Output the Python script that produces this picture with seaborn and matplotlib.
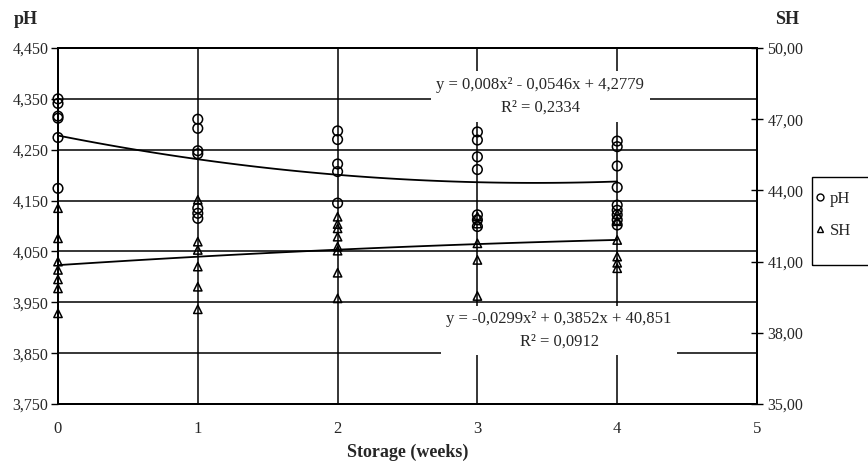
import numpy as np
import pandas as pd
import seaborn as sns
import matplotlib.pyplot as plt
from matplotlib.lines import Line2D
from matplotlib.patches import Rectangle

# pH readings (left axis) per storage week
ph_week = [0] * 6 + [1] * 7 + [2] * 5 + [3] * 7 + [4] * 9
ph_value = [4.350, 4.341, 4.316, 4.312, 4.274, 4.174,
            4.310, 4.292, 4.248, 4.242, 4.135, 4.125, 4.115,
            4.287, 4.270, 4.222, 4.207, 4.145,
            4.285, 4.269, 4.236, 4.211, 4.122, 4.112, 4.099,
            4.267, 4.256, 4.218, 4.176, 4.141, 4.131, 4.122, 4.112, 4.102]

# SH readings (right axis) per storage week
sh_week = [0] * 7 + [1] * 6 + [2] * 8 + [3] * 5 + [4] * 6
sh_value = [43.25, 41.98, 41.00, 40.65, 40.25, 39.87, 38.82,
            43.60, 41.84, 41.49, 40.79, 39.94, 38.99,
            42.89, 42.58, 42.40, 42.05, 41.63, 41.46, 40.53, 39.45,
            42.90, 42.60, 41.77, 41.07, 39.55,
            43.00, 42.70, 41.91, 41.21, 40.95, 40.72]

# trendline coefficients printed on the chart
ph_coef = [0.008, -0.0546, 4.2779]
sh_coef = [-0.0299, 0.3852, 40.851]
ph_eq = "y = 0,008x² - 0,0546x + 4,2779\nR² = 0,2334"
sh_eq = "y = -0,0299x² + 0,3852x + 40,851\nR² = 0,0912"

ph_ticks = [3.75, 3.85, 3.95, 4.05, 4.15, 4.25, 4.35, 4.45]
ph_labels = ["3,750", "3,850", "3,950", "4,050", "4,150", "4,250", "4,350", "4,450"]
sh_ticks = [35, 38, 41, 44, 47, 50]
sh_labels = ["35,00", "38,00", "41,00", "44,00", "47,00", "50,00"]
weeks = [0, 1, 2, 3, 4, 5]

ph_df = pd.DataFrame({"week": ph_week, "pH": ph_value})
sh_df = pd.DataFrame({"week": sh_week, "SH": sh_value})

sns.set_style("white")
plt.rcParams["font.family"] = ["Liberation Serif", "DejaVu Serif"]

fig = plt.figure(figsize=(8.68, 4.72), dpi=100)
ax = fig.add_axes([58 / 868, 1 - 404 / 472, 699 / 868, 356 / 472])
ax2 = ax.twinx()

sns.scatterplot(data=ph_df, x="week", y="pH", ax=ax, marker="o", s=48,
                facecolors="none", edgecolor="black", linewidth=1.1,
                zorder=3, clip_on=False)
sns.scatterplot(data=sh_df, x="week", y="SH", ax=ax2, marker="^", s=36,
                facecolors="none", edgecolor="black", linewidth=1.1,
                zorder=3, clip_on=False)

xs = np.linspace(0, 4, 100)
sns.lineplot(x=xs, y=np.polyval(ph_coef, xs), ax=ax, color="black", lw=1.3, zorder=2)
sns.lineplot(x=xs, y=np.polyval(sh_coef, xs), ax=ax2, color="black", lw=1.3, zorder=2)

ax.set_xlim(0, 5)
ax.set_ylim(3.75, 4.45)
ax2.set_ylim(35, 50)
ax.set_xticks(weeks)
ax.set_xticklabels([str(w) for w in weeks], fontsize=12)
ax.set_yticks(ph_ticks)
ax.set_yticklabels(ph_labels, fontsize=11.5)
ax2.set_yticks(sh_ticks)
ax2.set_yticklabels(sh_labels, fontsize=11.5)

ax.grid(True, color="black", lw=1.1)
ax2.grid(False)
for a in (ax, ax2):
    for sp in a.spines.values():
        sp.set_color("black")
        sp.set_linewidth(1.4)
ax.tick_params(axis="y", direction="out", length=5, width=1, pad=2, color="black")
ax.tick_params(axis="x", direction="inout", length=6, width=1, pad=9, color="black")
ax2.tick_params(axis="y", direction="inout", length=9, width=1, pad=3, color="black")

ax.set_xlabel("Storage (weeks)", fontsize=13, fontweight="bold", labelpad=5)
ax.set_ylabel("")
ax2.set_ylabel("")

ax2.text(3.45, 47.96, ph_eq, ha="center", va="center", fontsize=12,
         linespacing=1.6, zorder=5,
         bbox=dict(facecolor="white", edgecolor="none", pad=4))
ax2.text(3.585, 38.1, sh_eq, ha="center", va="center", fontsize=12,
         linespacing=1.5, zorder=5,
         bbox=dict(facecolor="white", edgecolor="none", pad=4))

fig.text(14 / 868, 1 - 20 / 472, "pH", fontsize=13, fontweight="bold", va="center")
fig.text(775 / 868, 1 - 20 / 472, "SH", fontsize=13, fontweight="bold", va="center")

handles = [Line2D([], [], marker="o", ls="", mfc="none", mec="black", ms=5, mew=1),
           Line2D([], [], marker="^", ls="", mfc="none", mec="black", ms=5, mew=1)]
fig.legend(handles, ["pH", "SH"], loc="upper left",
           bbox_to_anchor=(813 / 868, 1 - 191 / 472), fontsize=12,
           frameon=False, borderpad=0, borderaxespad=0,
           handletextpad=0.2, labelspacing=0.98, handlelength=0.8)
fig.add_artist(Rectangle((812 / 868, 1 - 265 / 472), 70 / 868, 88 / 472,
                         transform=fig.transFigure, fill=False,
                         edgecolor="black", lw=1))

fig.savefig("out.png", dpi=100)
